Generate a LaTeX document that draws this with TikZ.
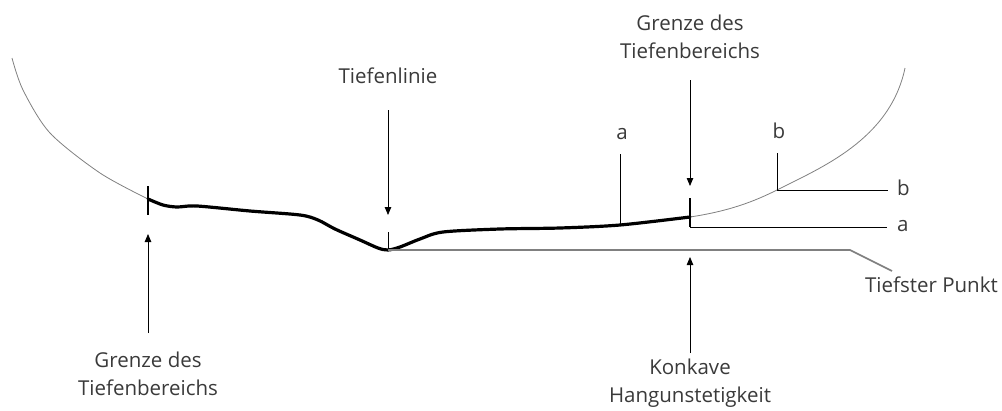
\documentclass[tikz,border=0pt]{standalone}
\usepackage{fontspec}
\setmainfont{Open Sans}
\usetikzlibrary{arrows.meta}
\definecolor{txtgray}{HTML}{3A3A3A}
\definecolor{slopegray}{HTML}{808080}

\begin{document}
\begin{tikzpicture}[x=1pt,y=-1pt,
  lbl/.style={text=txtgray,font=\fontsize{20.5}{28}\selectfont,align=center,inner sep=0pt},
  pointer/.style={-{Triangle[length=8pt,width=6.5pt]},line width=0.8pt},
  thin line/.style={line width=0.8pt}]
  \useasboundingbox (0,0) rectangle (1002,410);

  % slope of the valley
  \draw[slopegray, line width=0.8pt] plot[smooth] coordinates
    {(12,58) (23,90) (50,133) (100,173) (148,199)};
  \draw[slopegray, line width=0.8pt] (690,217) .. controls (730,211) and (755,201) .. (777,190)
    .. controls (820,168) and (890,140) .. (905,68);
  % deep zone
  \draw[line width=3.2pt, line cap=round] plot[smooth, tension=0.5] coordinates
    {(148,199) (163,205) (177,207) (197,206) (250,211) (300,215) (318,220)
     (335,229) (360,240) (378,248) (388,250) (400,247) (420,239) (443,232)
     (500,229) (560,228) (620,225) (690,217)};

  \coordinate (leftlim) at (148,199);
  \coordinate (lowpt) at (388,250);
  \coordinate (rightlim) at (690,217);
  \coordinate (apt) at (620,225);
  \coordinate (bpt) at (777,190);

  % boundary ticks
  \draw[line width=2pt] (148,186) -- (148,215);
  \draw[line width=2pt] (690,198) -- (690,227);
  \draw[thin line] (388,232) -- (lowpt);

  % tiefster punkt
  \coordinate (tpknee) at (850,250);
  \coordinate (tpend) at (892,271);
  \draw[slopegray, line width=1.6pt] (lowpt) -- (tpknee) -- (tpend);
  \node[lbl, anchor=east] (tp) at (998,285) {Tiefster Punkt};

  % a and b
  \coordinate (aright) at (887,227);
  \coordinate (atop) at (620,154);
  \draw[thin line] (690,227) -- (aright);
  \draw[thin line] (atop) -- (apt);
  \node[lbl] (alab) at (622,134) {a};
  \node[lbl, anchor=west] (alabr) at (897,226) {a};
  \coordinate (bright) at (888,190);
  \coordinate (btop) at (777,153);
  \draw[thin line] (btop) -- (bpt) -- (bright);
  \node[lbl] (blab) at (779,131) {b};
  \node[lbl, anchor=west] (blabr) at (897,188) {b};

  % labels with arrows
  \node[lbl] (tl) at (388,76) {Tiefenlinie};
  \coordinate (tltail) at (388,110);
  \coordinate (tltip) at (388,215);
  \draw[pointer] (tltail) -- (tltip);

  \node[lbl] (gtop) at (690,37) {Grenze des\\Tiefenbereichs};
  \coordinate (gtoptail) at (690,80);
  \coordinate (gtoptip) at (690,186);
  \draw[pointer] (gtoptail) -- (gtoptip);

  \node[lbl] (gbot) at (148,374) {Grenze des\\Tiefenbereichs};
  \coordinate (gbottail) at (148,333);
  \coordinate (gbottip) at (148,234);
  \draw[pointer] (gbottail) -- (gbottip);

  \node[lbl] (kh) at (690,383) {Konkave\\Hangunstetigkeit};
  \coordinate (khtail) at (690,353);
  \coordinate (khtip) at (690,257);
  \draw[pointer] (khtail) -- (khtip);
\end{tikzpicture}
\end{document}
